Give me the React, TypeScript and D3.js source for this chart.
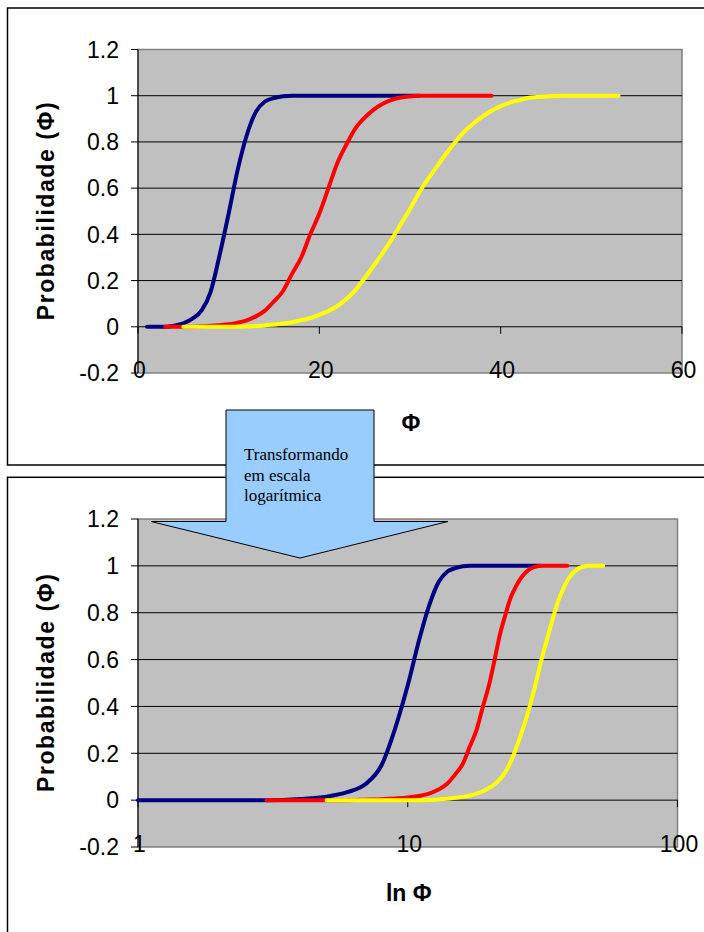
import React from "react";
import * as d3 from "d3";

// ---- data ----
const bluePhi = [1,2,3,4,5,6,7,8,9,10,11,12,13,14,15,16,17,18,19,20,21,22,23,24,25,26,27,28,29,30,31];
const blueProb = [0,0,0,0.005,0.015,0.035,0.07,0.15,0.31,0.49,0.68,0.83,0.93,0.975,0.99,0.998,1,1,1,1,1,1,1,1,1,1,1,1,1,1,1];

const redPhi = [3,4,5,6,7,8,9,10,11,12,13,14,15,16,17,18,19,20,21,22,23,24,25,26,27,28,29,30,31,32,33,34,35,36,37,38,39];
const redProb = [0,0,0,0,0.002,0.004,0.007,0.011,0.018,0.028,0.045,0.07,0.11,0.155,0.23,0.30,0.40,0.49,0.60,0.71,0.79,0.86,0.905,0.94,0.965,0.982,0.992,0.997,1,1,1,1,1,1,1,1,1];

const yellowPhi = [5,6,7,8,9,10,11,12,13,14,15,16,17,18,19,20,21,22,23,24,25,26,27,28,29,30,31,32,33,34,35,36,37,38,39,40,41,42,43,44,45,46,47,48,49,50,51,52,53];
const yellowProb = [0,0,0,0,0,0,0,0.001,0.003,0.006,0.01,0.014,0.02,0.028,0.038,0.052,0.068,0.09,0.12,0.16,0.21,0.265,0.32,0.38,0.445,0.51,0.58,0.64,0.695,0.75,0.80,0.845,0.88,0.91,0.935,0.955,0.97,0.98,0.99,0.994,0.997,0.999,1,1,1,1,1,1,1];

const series = [
  { name: "blue", phi: bluePhi, prob: blueProb, color: "#000080" },
  { name: "red", phi: redPhi, prob: redProb, color: "#FF0000" },
  { name: "yellow", phi: yellowPhi, prob: yellowProb, color: "#FFFF00" },
];

const yTicks = [-0.2, 0, 0.2, 0.4, 0.6, 0.8, 1, 1.2];
const yTickLabels = ["-0.2", "0", "0.2", "0.4", "0.6", "0.8", "1", "1.2"];
const linTicks = [0, 20, 40, 60];
const logTicks = [1, 10, 100];

const yTitle = "Probabilidade (Φ)";
const xTitleTop = "Φ";
const xTitleBottom = "ln Φ";
const arrowLines = ["Transformando", "em escala", "logarítmica"];

const SANS = "'Liberation Sans', Arial, sans-serif";
const SERIF = "'Liberation Serif', 'Times New Roman', serif";

type Plot = { x0: number; x1: number; y0: number; y1: number };

function Chart({
  plot,
  xScale,
  xTicks,
  xTitle,
  titleY,
}: {
  plot: Plot;
  xScale: (v: number) => number;
  xTicks: number[];
  xTitle: string;
  titleY: number;
}) {
  const y = d3.scaleLinear().domain([-0.2, 1.2]).range([plot.y1, plot.y0]);
  const zeroY = y(0);
  const line = (s: { phi: number[]; prob: number[] }) =>
    d3
      .line<number>()
      .x((_, i) => xScale(s.phi[i]))
      .y((_, i) => y(s.prob[i]))
      .curve(d3.curveMonotoneX)(s.prob) || "";
  return (
    <g>
      <rect
        x={plot.x0}
        y={plot.y0}
        width={plot.x1 - plot.x0}
        height={plot.y1 - plot.y0}
        fill="#C0C0C0"
        stroke="#808080"
        strokeWidth={1.5}
      />
      {yTicks
        .filter((t) => t > -0.2 && t < 1.2)
        .map((t) => (
          <line key={t} x1={plot.x0} x2={plot.x1} y1={y(t)} y2={y(t)} stroke="#000" strokeWidth={1} />
        ))}
      {/* y axis */}
      <line x1={plot.x0} x2={plot.x0} y1={plot.y0} y2={plot.y1} stroke="#000" strokeWidth={1} />
      {yTicks.map((t, i) => (
        <g key={t}>
          <line x1={plot.x0 - 7} x2={plot.x0} y1={y(t)} y2={y(t)} stroke="#000" strokeWidth={1} />
          <text
            x={119}
            y={y(t) + 8.3}
            textAnchor="end"
            fontFamily={SANS}
            fontSize={23}
            fill="#000"
          >
            {yTickLabels[i]}
          </text>
        </g>
      ))}
      {/* x axis ticks at y = 0 */}
      {xTicks.map((t) => (
        <g key={t}>
          <line x1={xScale(t)} x2={xScale(t)} y1={zeroY} y2={zeroY + 7} stroke="#000" strokeWidth={1} />
          <text
            x={xScale(t) + 1.5}
            y={plot.y1 + 4.5}
            textAnchor="middle"
            fontFamily={SANS}
            fontSize={23}
            fill="#000"
          >
            {t}
          </text>
        </g>
      ))}
      {series.map((s) => (
        <path
          key={s.name}
          d={line(s)}
          fill="none"
          stroke={s.color}
          strokeWidth={4}
          strokeLinecap="round"
          strokeLinejoin="round"
        />
      ))}
      <text
        transform={`translate(54,${(plot.y0 + plot.y1) / 2}) rotate(-90)`}
        textAnchor="middle"
        fontFamily={SANS}
        fontWeight="bold"
        fontSize={23}
        textLength={218}
        lengthAdjust="spacing"
        fill="#000"
      >
        {yTitle}
      </text>
      <text
        x={(plot.x0 + plot.x1) / 2 + 1}
        y={titleY}
        textAnchor="middle"
        fontFamily={SANS}
        fontWeight="bold"
        fontSize={23}
        fill="#000"
      >
        {xTitle}
      </text>
    </g>
  );
}

export default function App() {
  const topPlot: Plot = { x0: 138, x1: 682, y0: 49.5, y1: 373 };
  const botPlot: Plot = { x0: 138, x1: 677.5, y0: 519, y1: 847 };
  const xLin = d3.scaleLinear().domain([0, 60]).range([topPlot.x0, topPlot.x1]);
  const xLog = d3.scaleLog().domain([1, 100]).range([botPlot.x0, botPlot.x1]);

  const arrow = [
    [226, 410],
    [374, 410],
    [374, 521.5],
    [448, 521.5],
    [300, 558],
    [151, 521.5],
    [226, 521.5],
  ];

  return (
    <svg
      width={704}
      height={932}
      style={{ position: "absolute", left: 0, top: 0, background: "#fff" }}
    >
      <rect x={0} y={0} width={704} height={932} fill="#fff" />
      {/* chart frames */}
      <rect x={7.5} y={8} width={720} height={457} fill="#fff" stroke="#000" strokeWidth={1.5} />
      <rect x={7.5} y={477.3} width={720} height={480} fill="#fff" stroke="#000" strokeWidth={1.5} />

      <Chart plot={topPlot} xScale={xLin} xTicks={linTicks} xTitle={xTitleTop} titleY={431} />
      <Chart plot={botPlot} xScale={(v) => xLog(v)} xTicks={logTicks} xTitle={xTitleBottom} titleY={900.5} />

      {/* arrow callout */}
      <polygon
        points={arrow.map((p) => p.join(",")).join(" ")}
        fill="#99CCFF"
        stroke="#000"
        strokeWidth={1}
      />
      {arrowLines.map((t, i) => (
        <text key={t} x={244} y={460 + i * 20.5} fontFamily={SERIF} fontSize={17} fill="#000">
          {t}
        </text>
      ))}
    </svg>
  );
}
